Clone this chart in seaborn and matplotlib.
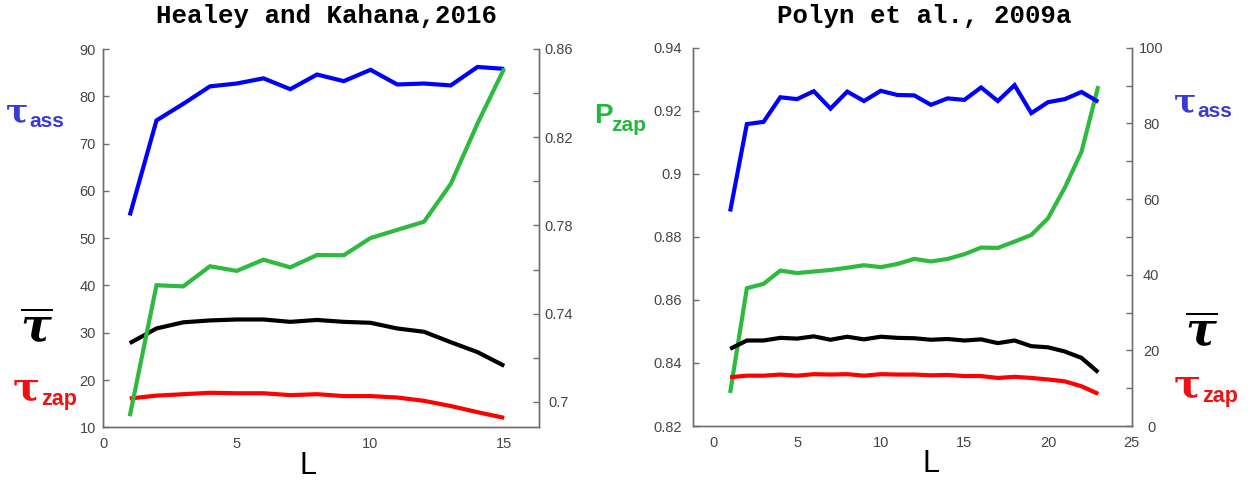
import numpy as np
import pandas as pd
import matplotlib
matplotlib.use("Agg")
import matplotlib.pyplot as plt
import seaborn as sns

# ---- Healey and Kahana, 2016 (list lengths 1..15) ----
L_hk = list(range(1, 16))
tau_ass_hk = [54.8, 74.9, 78.4, 82.1, 82.7, 83.8, 81.5, 84.6, 83.2, 85.6,
              82.5, 82.7, 82.3, 86.2, 85.8]
tau_bar_hk = [27.8, 30.9, 32.2, 32.6, 32.8, 32.8, 32.3, 32.7, 32.3, 32.1,
              30.9, 30.2, 28.0, 25.9, 23.0]
tau_zap_hk = [16.1, 16.7, 17.0, 17.3, 17.2, 17.2, 16.8, 17.0, 16.6, 16.6,
              16.3, 15.6, 14.5, 13.2, 12.0]
p_zap_hk = [0.6935, 0.7529, 0.7524, 0.7615, 0.7594, 0.7645, 0.7610, 0.7666,
            0.7665, 0.7743, 0.7780, 0.7817, 0.7988, 0.8262, 0.8512]

# ---- Polyn et al., 2009a (list lengths 1..23) ----
L_po = list(range(1, 24))
tau_ass_po = [56.7, 79.8, 80.4, 86.9, 86.4, 88.5, 83.9, 88.4, 85.9, 88.6,
              87.5, 87.4, 84.9, 86.6, 86.2, 89.5, 85.9, 90.1, 82.7, 85.6,
              86.4, 88.3, 85.7]
tau_bar_po = [20.4, 22.6, 22.6, 23.3, 23.1, 23.7, 22.8, 23.6, 22.9, 23.6,
              23.3, 23.2, 22.8, 23.0, 22.6, 22.9, 21.9, 22.6, 21.1, 20.8,
              19.7, 18.0, 14.2]
tau_zap_po = [12.9, 13.3, 13.3, 13.6, 13.3, 13.7, 13.6, 13.7, 13.3, 13.7,
              13.6, 13.6, 13.4, 13.5, 13.2, 13.2, 12.7, 13.0, 12.7, 12.3,
              11.8, 10.5, 8.5]
p_zap_po = [0.8305, 0.8637, 0.8651, 0.8693, 0.8685, 0.8690, 0.8695, 0.8702,
            0.8710, 0.8704, 0.8714, 0.8730, 0.8722, 0.8730, 0.8745, 0.8766,
            0.8765, 0.8785, 0.8806, 0.8859, 0.8956, 0.9070, 0.9278]

# ---- tick labels ----
hk_left_ticks = [10, 20, 30, 40, 50, 60, 70, 80, 90]
hk_right_ticks = [0.70, 0.72, 0.74, 0.76, 0.78, 0.80, 0.82, 0.84, 0.86]
hk_right_labels = ["0.7", "", "0.74", "", "0.78", "", "0.82", "", "0.86"]
hk_x_ticks = [0, 5, 10, 15]
po_left_ticks = [0.82, 0.84, 0.86, 0.88, 0.90, 0.92, 0.94]
po_left_labels = ["0.82", "0.84", "0.86", "0.88", "0.9", "0.92", "0.94"]
po_right_ticks = [0, 10, 20, 30, 40, 50, 60, 70, 80, 90, 100]
po_right_labels = ["0", "", "20", "", "40", "", "60", "", "80", "", "100"]
po_x_ticks = [0, 5, 10, 15, 20, 25]

C_BLUE, C_GREEN, C_BLACK, C_RED = "#0000ff", "#2dba3f", "#000000", "#ff0000"
LBL_BLUE, LBL_GREEN, LBL_RED = "#3a3ad8", "#22b83a", "#ee1111"
AXC, TXC = "#6e6e6e", "#454545"
LW = 3.0

sns.set_style("white")
plt.rcParams["font.family"] = ["Liberation Sans", "DejaVu Sans"]

W, H = 1258, 482
fig = plt.figure(figsize=(W / 100, H / 100), dpi=100)


def frac(x0, y0, x1, y1):
    return [x0 / W, 1 - y1 / H, (x1 - x0) / W, (y1 - y0) / H]


def style(ax, side):
    for s in ["left", "right", "bottom", "top"]:
        ax.spines[s].set_color(AXC)
        ax.spines[s].set_linewidth(1.0)
    ax.spines["top"].set_visible(False)
    ax.set_xlabel("")
    ax.set_ylabel("")
    ax.tick_params(axis="both", direction="in", length=4, width=1,
                   color=AXC, labelcolor=TXC, labelsize=10.5)
    ax.tick_params(axis="x", pad=7)
    ax.tick_params(axis="y", pad=5 if side == "left" else 14)


def line(ax, x, y, color):
    sns.lineplot(x=x, y=y, ax=ax, color=color, linewidth=LW, legend=False,
                 solid_joinstyle="miter", solid_capstyle="butt")


# ================= left panel =================
axA = fig.add_axes(frac(103, 49, 539, 427.3))
axA.set_facecolor("none")
line(axA, L_hk, tau_ass_hk, C_BLUE)
line(axA, L_hk, tau_bar_hk, C_BLACK)
line(axA, L_hk, tau_zap_hk, C_RED)
axA.set_xlim(0, 16.3)
axA.set_ylim(10, 90)
axA.set_xticks(hk_x_ticks)
axA.set_yticks(hk_left_ticks)
axAr = axA.twinx()
line(axAr, L_hk, p_zap_hk, C_GREEN)
axAr.set_ylim(0.6885, 0.86)
axAr.set_yticks(hk_right_ticks)
axAr.set_yticklabels(hk_right_labels)
style(axA, "left")
style(axAr, "right")

# ================= right panel =================
axB = fig.add_axes(frac(693.3, 47.7, 1131.7, 426))
line(axB, L_po, p_zap_po, C_GREEN)
axB.set_xlim(-1.2, 25)
axB.set_ylim(0.82, 0.94)
axB.set_xticks(po_x_ticks)
axB.set_yticks(po_left_ticks)
axB.set_yticklabels(po_left_labels)
axBr = axB.twinx()
line(axBr, L_po, tau_ass_po, C_BLUE)
line(axBr, L_po, tau_bar_po, C_BLACK)
line(axBr, L_po, tau_zap_po, C_RED)
axBr.set_ylim(0, 100)
axBr.set_yticks(po_right_ticks)
axBr.set_yticklabels(po_right_labels)
style(axB, "left")
axB.tick_params(axis="y", pad=8)
style(axBr, "right")

for a in (axAr, axBr):
    for lab in a.get_yticklabels():
        lab.set_horizontalalignment("center")

# ================= titles and axis names =================
def ftext(x, y, s, **kw):
    fig.text(x / W, 1 - y / H, s, **kw)


title_kw = dict(family="Liberation Mono", fontweight="bold", fontsize=18.5,
                ha="center", va="center", color="black")
ftext(326, 16, "Healey and Kahana,2016", **title_kw)
ftext(924, 16, "Polyn et al., 2009a", **title_kw)

ftext(308, 466, "L", fontsize=22, ha="center", va="center", color="black")
ftext(931, 464, "L", fontsize=22, ha="center", va="center", color="black")

greek = dict(family="DejaVu Serif", fontweight="bold", va="baseline", ha="left")
sub = dict(family="Liberation Sans", fontweight="bold", va="baseline", ha="left")


def tau_label(x, y, name, color, tsize, ssize, gap):
    ftext(x, y, "τ", color=color, fontsize=tsize, **greek)
    ftext(x + gap, y + 5, name, color=color, fontsize=ssize, **sub)


# left side labels
tau_label(6, 122, "ass", LBL_BLUE, 24, 15, 23)
tau_label(13, 400, "zap", LBL_RED, 29, 15.5, 28)
ftext(20, 341, r"$\overline{\boldsymbol{\tau}}$", color="black", fontsize=33,
      math_fontfamily="dejavuserif", va="baseline", ha="left")
ftext(594, 123, "P", color=LBL_GREEN, fontsize=20, family="Liberation Sans",
      fontweight="bold", va="baseline", ha="left")
ftext(611, 131, "zap", color=LBL_GREEN, fontsize=15, **sub)

# right side labels
tau_label(1174, 112, "ass", LBL_BLUE, 24, 15, 23)
tau_label(1174, 397, "zap", LBL_RED, 29, 15.5, 28)
ftext(1185, 345, r"$\overline{\boldsymbol{\tau}}$", color="black", fontsize=33,
      math_fontfamily="dejavuserif", va="baseline", ha="left")

fig.savefig("out.png", dpi=100, facecolor="white")
